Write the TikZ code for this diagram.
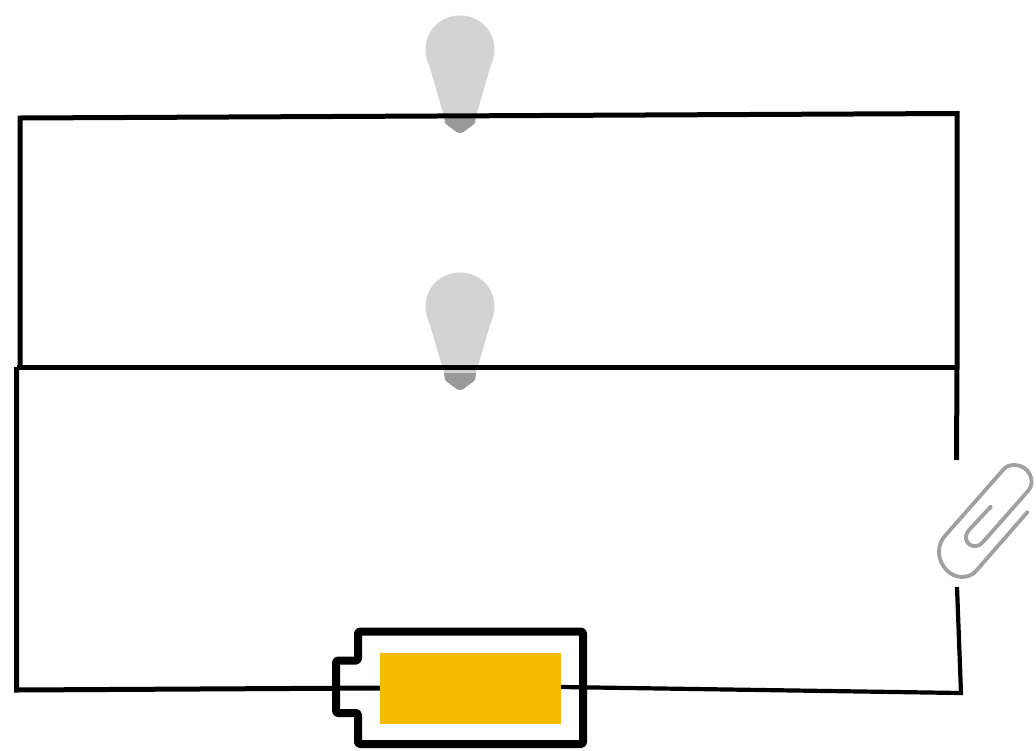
\documentclass[tikz,border=0pt]{standalone}
\definecolor{bulbc}{HTML}{D3D3D3}
\definecolor{basec}{HTML}{999999}
\definecolor{clipc}{HTML}{A0A0A0}
\definecolor{battc}{HTML}{F8BB00}
\tikzset{
  wire/.style={draw=black,line width=5pt,line cap=butt,line join=miter},
  thinwire/.style={draw=black,line width=4.2pt,line join=miter},
  bulbglass/.style={fill=bulbc,draw=none},
  bulbbase/.style={fill=basec,draw=none},
  clip/.style={draw=clipc,line width=3.8pt,line cap=round,line join=round},
  battshell/.style={draw=black,line width=8pt,line join=round,rounded corners=1.5pt},
  battfill/.style={fill=battc,draw=none,inner sep=0pt,minimum width=181pt,minimum height=71.5pt},
}
\newcommand{\bulbshape}[1]{%
  \begin{scope}[shift={(0,#1)}]
    \path[bulbglass] (425.5,50) .. controls (425.5,30) and (441,15.5) .. (460,15.5)
      .. controls (479,15.5) and (494.5,30) .. (494.5,50)
      .. controls (494.5,56) and (492.5,62) .. (490,68)
      -- (476,116) -- (444,116) -- (430,68)
      .. controls (427.5,62) and (425.5,56) .. (425.5,50) -- cycle;
    \path[bulbbase] (444,116) -- (476,116) -- (475,123)
      .. controls (471,127) and (468,128) .. (466,130)
      .. controls (463,134) and (457,134) .. (454,130)
      .. controls (452,128) and (449,127) .. (445,123) -- cycle;
  \end{scope}}
\begin{document}
\begin{tikzpicture}[x=1pt,y=-1pt]
\useasboundingbox (0,0) rectangle (1036,750);
\fill[white] (0,0) rectangle (1036,750);
\bulbshape{0}
\bulbshape{257}
\coordinate (tl) at (20,118);
\coordinate (tr) at (957,113.5);
\coordinate (ml) at (16.5,367);
\coordinate (mlu) at (20,367);
\coordinate (mr) at (957,367);
\coordinate (cliptop) at (956.5,460);
\coordinate (clipbot) at (957,587);
\coordinate (br) at (961,693);
\coordinate (bl) at (16.5,690);
\coordinate (termA) at (380,688);
\coordinate (termB) at (561,687);
\draw[wire] (mlu) -- (tl) -- (tr) -- (mr);
\draw[wire] (ml) -- (mr);
\draw[wire] (mr) -- (cliptop);
\draw[wire] (ml) -- (bl) -- (termA);
\draw[thinwire] (termB) -- (br) -- (clipbot);
\draw[battshell] (358,631.5) -- (583,631.5) -- (583,744) -- (358,744) -- (358,713) -- (336,713) -- (336,660.5) -- (358,660.5) -- cycle;
\node[battfill] (cell) at (470.75,688.5) {};
\draw[clip] (991,506.5) -- (969,530)
  .. controls (962,538) and (968,547) .. (976,546)
  .. controls (979,546) and (981,544) .. (983,542)
  -- (1028,491)
  .. controls (1037,481) and (1028,465) .. (1015,465)
  .. controls (1010,465) and (1006,466) .. (1003,470)
  -- (944,537)
  .. controls (934,550) and (940,566) .. (950,573)
  .. controls (958,579) and (970,578) .. (976,571)
  -- (1027.5,512);
\end{tikzpicture}
\end{document}
